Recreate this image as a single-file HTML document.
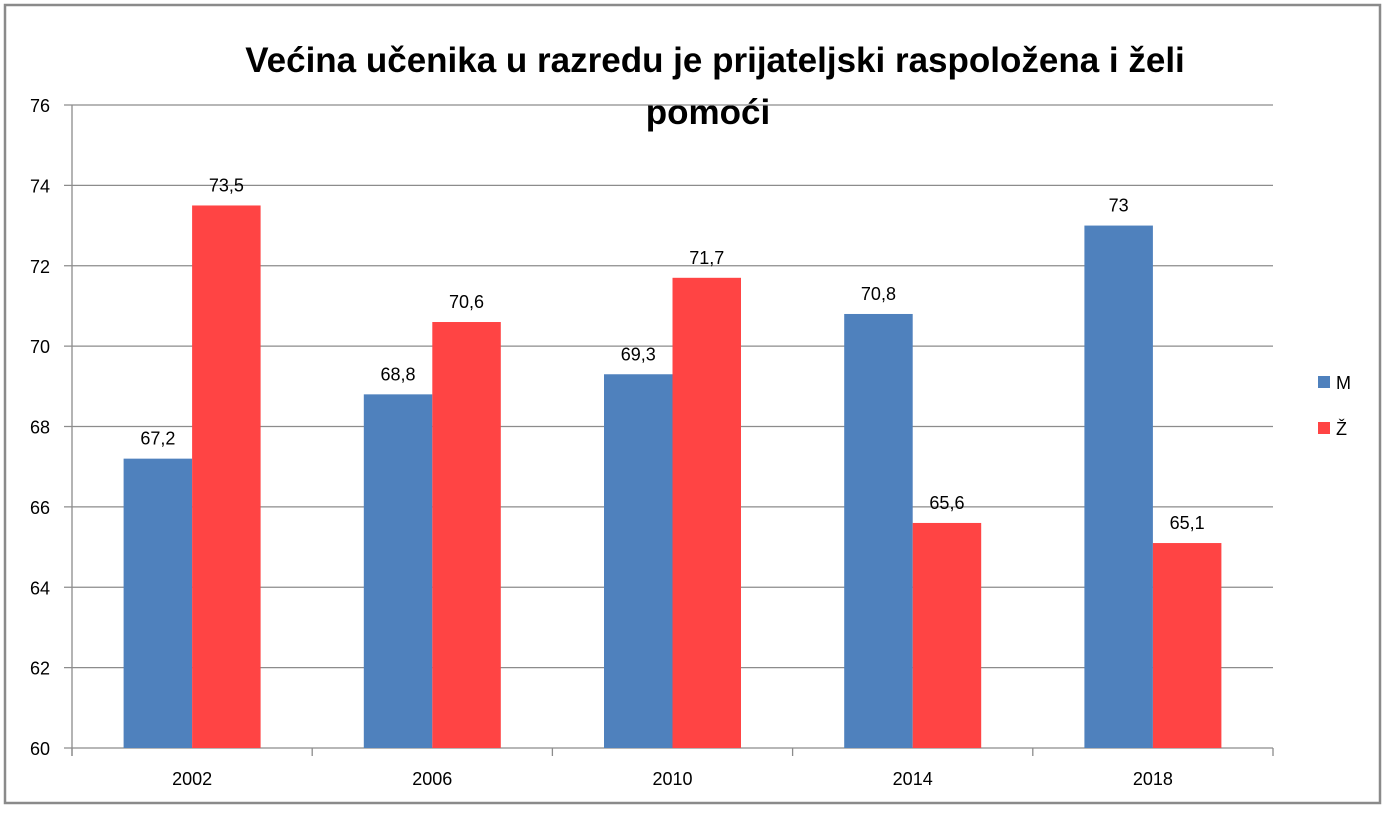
<!DOCTYPE html>
<html><head><meta charset="utf-8"><style>
body{margin:0;background:#fff}
svg text{font-family:"Liberation Sans",sans-serif}
</style></head><body>
<svg id="chart" width="1387" height="808" xmlns="http://www.w3.org/2000/svg">
<rect x="5" y="5" width="1375" height="798" fill="#fff" stroke="#8a8a8a" stroke-width="2.5"/>
<text x="715" y="72" text-anchor="middle" font-size="35" font-weight="bold">Većina učenika u razredu je prijateljski raspoložena i želi</text>
<text x="708" y="124" text-anchor="middle" font-size="35" font-weight="bold">pomoći</text>
<g id="grid"></g><g id="bars"></g><g id="axes"></g>
<g>
<rect x="1318" y="376" width="12" height="12" fill="#4f81bd"/>
<text x="1336" y="389" font-size="18">M</text>
<rect x="1318" y="422" width="12" height="12" fill="#ff4444"/>
<text x="1336" y="435" font-size="18">Ž</text>
</g>
</svg>
<script>
const categories=["2002","2006","2010","2014","2018"];
const seriesM=[67.2,68.8,69.3,70.8,73];
const seriesZ=[73.5,70.6,71.7,65.6,65.1];
const labelsM=["67,2","68,8","69,3","70,8","73"];
const labelsZ=["73,5","70,6","71,7","65,6","65,1"];
const yTicks=[60,62,64,66,68,70,72,74,76];
const NS="http://www.w3.org/2000/svg";
const L=72,R=1273,T=105,B=748,ymin=60,ymax=76;
const y=v=>B-(v-ymin)/(ymax-ymin)*(B-T);
const cw=(R-L)/categories.length, bw=68.5;
function mk(tag,attrs,parent,txt){const e=document.createElementNS(NS,tag);for(const k in attrs)e.setAttribute(k,attrs[k]);if(txt!==undefined)e.textContent=txt;document.getElementById(parent).appendChild(e);return e;}
yTicks.forEach(t=>{
 const g=mk('line',{x1:64,x2:R,y1:y(t),y2:y(t),stroke:'#8c8c8c','stroke-width':1.3},'grid');
 
 
 const tx=mk('text',{x:50,y:y(t)+7,'text-anchor':'end','font-size':18},'axes',String(t));
 
 
});
const ya=mk('line',{x1:L,x2:L,y1:T,y2:756,stroke:'#8c8c8c','stroke-width':1.3},'axes');


for(let i=0;i<=categories.length;i++){
 const tk=mk('line',{x1:L+i*cw,x2:L+i*cw,y1:B,y2:756,stroke:'#8c8c8c','stroke-width':1.3},'axes');
 
 
}
categories.forEach((c,i)=>{
 const cx=L+cw*i+cw/2;
 const xl=mk('text',{x:cx,y:785,'text-anchor':'middle','font-size':18},'axes',c);
 
 
 [[seriesM,labelsM,'#4f81bd',cx-bw,'m'],[seriesZ,labelsZ,'#ff4444',cx,'z']].forEach(([s,lb,col,x0,k])=>{
  const r=mk('rect',{x:x0,y:y(s[i]),width:bw,height:B-y(s[i]),fill:col},'bars');
  
  
  const t=mk('text',{x:x0+bw/2,y:y(s[i])-14,'text-anchor':'middle','font-size':18},'bars',lb[i]);
  
  
 });
});
</script>
</body></html>
